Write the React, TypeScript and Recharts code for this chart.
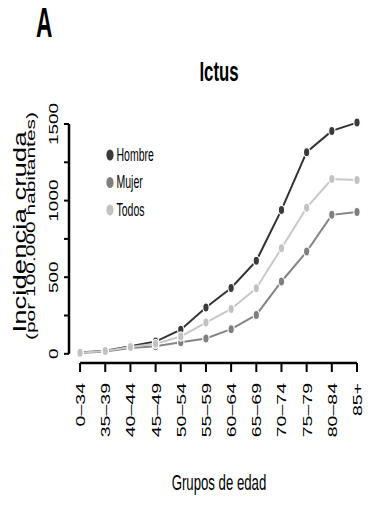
import { LineChart, Line, XAxis, YAxis, Legend, ReferenceLine } from "recharts";

const ageGroups = [
  "0–34", "35–39", "40–44", "45–49", "50–54", "55–59",
  "60–64", "65–69", "70–74", "75–79", "80–84", "85+",
];
const hombre = [8, 20, 50, 80, 157, 302, 430, 607, 939, 1316, 1455, 1509];
const mujer = [6, 15, 38, 50, 76, 100, 161, 254, 472, 667, 907, 926];
const todos = [7, 18, 44, 65, 113, 204, 293, 428, 689, 954, 1141, 1135];
const yTicks = [0, 250, 500, 750, 1000, 1250, 1500];
const yLabelled = [0, 500, 1000, 1500];

const series = [
  { key: "hombre", name: "Hombre", line: "#333333", dot: "#3a3a3a" },
  { key: "mujer", name: "Mujer", line: "#858585", dot: "#7f7f7f" },
  { key: "todos", name: "Todos", line: "#c8c8c8", dot: "#c2c2c2" },
];

const data = ageGroups.map((group, i) => ({
  idx: i,
  group,
  hombre: hombre[i],
  mujer: mujer[i],
  todos: todos[i],
}));
const xTicks = ageGroups.map((_, i) => i);

const SANS = '"Liberation Sans", Arial, sans-serif';

// the original figure is squeezed sideways, so glyphs are narrower than tall
function XTick(props: any) {
  const { x, y, payload } = props;
  return (
    <text
      transform={`translate(${x + 5},${y}) rotate(-90) scale(1,0.66)`}
      textAnchor="end"
      fontFamily={SANS}
      fontSize={19.5}
      fill="#000"
    >
      {ageGroups[payload.value]}
    </text>
  );
}

function YTick(props: any) {
  const { x, y, payload } = props;
  if (!yLabelled.includes(payload.value)) return null;
  return (
    <text
      transform={`translate(${x - 4},${y}) rotate(-90) scale(1,0.66)`}
      textAnchor="middle"
      fontFamily={SANS}
      fontSize={19}
      fill="#000"
    >
      {payload.value}
    </text>
  );
}

function LegendBox(props: any) {
  const items = props.payload ?? [];
  return (
    <svg width={80} height={85}>
      {items.map((item: any, i: number) => {
        const cy = 12 + i * 27.5;
        return (
          <g key={item.value}>
            <ellipse cx={10} cy={cy} rx={3.6} ry={5.6} fill={series[i].dot} />
            <text
              transform={`translate(16.5,${cy + 5.5}) scale(0.6,1)`}
              fontFamily={SANS}
              fontSize={17.5}
              fill="#000"
            >
              {item.value}
            </text>
          </g>
        );
      })}
    </svg>
  );
}

function makeDot(color: string) {
  return (p: any) => (
    <ellipse
      key={`d-${p.index}`}
      cx={p.cx}
      cy={p.cy}
      rx={3.2}
      ry={4.6}
      fill={color}
      stroke="#fff"
      strokeWidth={1.2}
    />
  );
}

export default function App() {
  return (
    <div style={{ position: "relative", width: 369, height: 508, background: "#fff" }}>
      <style>{"body{margin:0}"}</style>
      <LineChart
        width={369}
        height={508}
        data={data}
        margin={{ top: 114.8, right: 4.45, bottom: 0, left: 0 }}
      >
        <XAxis
          type="number"
          dataKey="idx"
          domain={[-0.44, 11.3]}
          allowDataOverflow
          ticks={xTicks}
          interval={0}
          axisLine={false}
          tickLine={{ stroke: "#000", strokeWidth: 2 }}
          tickSize={9}
          tickMargin={11}
          height={145}
          tick={<XTick />}
        />
        <YAxis
          type="number"
          domain={[-60, 1560]}
          allowDataOverflow
          ticks={yTicks}
          interval={0}
          width={69}
          axisLine={false}
          tickLine={{ stroke: "#000", strokeWidth: 2 }}
          tickSize={5}
          tick={<YTick />}
        />
        <ReferenceLine
          segment={[{ x: -0.44, y: 0 }, { x: -0.44, y: 1500 }]}
          stroke="#000"
          strokeWidth={2.5}
          ifOverflow="visible"
        />
        <ReferenceLine
          segment={[{ x: 0, y: -60 }, { x: 11, y: -60 }]}
          stroke="#000"
          strokeWidth={2.5}
          ifOverflow="visible"
        />
        <Legend
          layout="vertical"
          align="center"
          verticalAlign="middle"
          content={<LegendBox />}
          wrapperStyle={{ position: "absolute", left: 100, top: 143, width: 80, height: 85 }}
        />
        {series.map((s) => (
          <Line
            key={s.key}
            dataKey={s.key}
            name={s.name}
            type="linear"
            stroke={s.line}
            strokeWidth={2}
            dot={makeDot(s.dot)}
            activeDot={false}
            isAnimationActive={false}
          />
        ))}
      </LineChart>
      <svg
        width={369}
        height={508}
        style={{ position: "absolute", left: 0, top: 0, pointerEvents: "none" }}
      >
        <text transform="translate(36,37) scale(0.54,1)" fontFamily={SANS} fontWeight="bold" fontSize={42}>
          A
        </text>
        <text transform="translate(219,81) scale(0.6,1)" textAnchor="middle" fontFamily={SANS} fontWeight="bold" fontSize={28}>
          Ictus
        </text>
        <text transform="translate(219,490) scale(0.6,1)" textAnchor="middle" fontFamily={SANS} fontSize={22}>
          Grupos de edad
        </text>
        <text
          transform="translate(25.5,232) rotate(-90)"
          textAnchor="middle"
          fontFamily={SANS}
          fontSize={18.5}
          textLength={201}
          lengthAdjust="spacingAndGlyphs"
        >
          Incidencia cruda
        </text>
        <text
          transform="translate(34.5,226) rotate(-90)"
          textAnchor="middle"
          fontFamily={SANS}
          fontSize={12}
          textLength={228}
          lengthAdjust="spacingAndGlyphs"
        >
          (por 100.000 habitantes)
        </text>
      </svg>
    </div>
  );
}
